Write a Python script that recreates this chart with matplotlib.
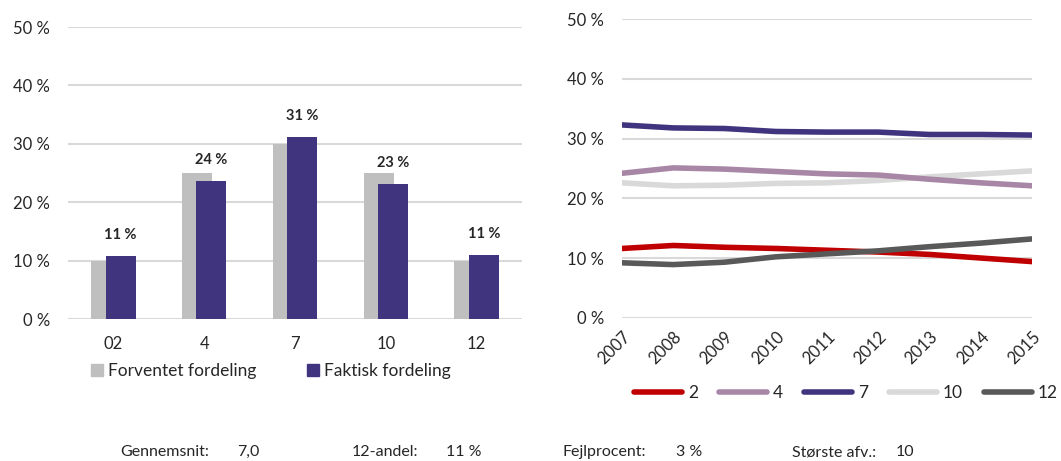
import matplotlib
matplotlib.use("Agg")
import matplotlib.pyplot as plt
import numpy as np
from matplotlib.patches import Patch
from matplotlib.lines import Line2D

plt.rcParams['font.family'] = ['Lato', 'DejaVu Sans']

# Left chart data
grades = ["02", "4", "7", "10", "12"]
expected = [10, 25, 30, 25, 10]
actual = [10.8, 23.7, 31.2, 23.1, 11.0]
actual_labels = ["11 %", "24 %", "31 %", "23 %", "11 %"]

# Right chart data
years = [2007, 2008, 2009, 2010, 2011, 2012, 2013, 2014, 2015]
s2 = [11.6, 12.1, 11.8, 11.6, 11.3, 11.0, 10.6, 10.0, 9.4]
s4 = [24.2, 25.1, 24.9, 24.5, 24.1, 23.9, 23.2, 22.6, 22.1]
s7 = [32.3, 31.8, 31.7, 31.2, 31.1, 31.1, 30.7, 30.7, 30.6]
s10 = [22.6, 22.1, 22.2, 22.5, 22.6, 23.0, 23.6, 24.1, 24.6]
s12 = [9.2, 8.9, 9.3, 10.2, 10.7, 11.2, 11.9, 12.5, 13.2]
series_names = ["2", "4", "7", "10", "12"]
series_colors = ["#C00000", "#A886A6", "#41347F", "#D9D9D9", "#595959"]

# Bottom stats
stat_labels = ["Gennemsnit:", "12-andel:", "Fejlprocent:", "Største afv.:"]
stat_values = ["7,0", "11 %", "3 %", "10"]

W, H = 1061, 461
fig = plt.figure(figsize=(W / 100, H / 100), dpi=100)

text_color = "#262626"
grid_color = "#D9D9D9"
tick_fs = 12

# ---------- Left chart ----------
axL = fig.add_axes([68 / W, 1 - 319 / H, (522 - 68) / W, (319 - 27) / H])
x = np.arange(len(grades))
bw = 0.33
off = 0.08
axL.bar(x - off, expected, width=bw, color="#BFBFBF", zorder=2, label="Forventet fordeling")
axL.bar(x + off, actual, width=bw, color="#41347F", zorder=3, label="Faktisk fordeling")
for xi, v, lab in zip(x, actual, actual_labels):
    axL.annotate(lab, (xi + off, v), xytext=(0, 15), textcoords="offset points",
                 ha="center", va="center", fontsize=10.5, fontweight="bold", color=text_color)
axL.set_ylim(0, 50)
axL.set_xlim(-0.5, len(grades) - 0.5)
axL.set_yticks(np.arange(0, 51, 10))
axL.set_yticklabels([f"{v} %" for v in range(0, 51, 10)])
axL.set_xticks(x)
axL.set_xticklabels(grades)
axL.grid(axis="y", color=grid_color, linewidth=1.5, zorder=0)
axL.set_axisbelow(True)
for s in axL.spines.values():
    s.set_visible(False)
axL.tick_params(axis="both", length=0, labelsize=tick_fs, colors=text_color)
axL.tick_params(axis="y", pad=13)
axL.tick_params(axis="x", pad=12)

hL = [Patch(color="#BFBFBF"), Patch(color="#41347F")]
fig.legend(hL, ["Forventet fordeling", "Faktisk fordeling"], loc="center left",
           bbox_to_anchor=(91 / W, 1 - 371 / H), ncol=2, frameon=False,
           fontsize=12.5, handlelength=0.7, handleheight=0.7, handletextpad=0.3,
           columnspacing=2.9, borderpad=0, borderaxespad=0, labelcolor=text_color)

# ---------- Right chart ----------
axR = fig.add_axes([622 / W, 1 - 317.7 / H, (1032 - 622) / W, (317.7 - 19.3) / H])
all_series = [s2, s4, s7, s10, s12]
for i in [3, 1, 2, 0, 4]:
    axR.plot(years, all_series[i], color=series_colors[i], linewidth=4,
             solid_capstyle="round", zorder=3)
axR.set_xlim(years[0], years[-1])
axR.set_ylim(0, 50)
axR.set_yticks(np.arange(0, 51, 10))
axR.set_yticklabels([f"{v} %" for v in range(0, 51, 10)])
axR.set_xticks(years)
axR.set_xticklabels([str(y) for y in years], rotation=45, ha="right", rotation_mode="anchor")
axR.grid(axis="y", color=grid_color, linewidth=1.5, zorder=0)
axR.set_axisbelow(True)
for s in axR.spines.values():
    s.set_visible(False)
axR.tick_params(axis="both", length=0, labelsize=tick_fs, colors=text_color)
axR.tick_params(axis="y", pad=13)
axR.tick_params(axis="x", pad=8)

hR = [Line2D([], [], color=c, linewidth=4, solid_capstyle="round") for c in series_colors]
fig.legend(hR, series_names, loc="center left", bbox_to_anchor=(634 / W, 1 - 393 / H),
           ncol=5, frameon=False, fontsize=12.5, handlelength=2.75, handletextpad=0.35,
           columnspacing=1.22, borderpad=0, borderaxespad=0, labelcolor=text_color)

# ---------- Bottom stats ----------
stat_x = [120, 352, 563, 792]
val_x = [237, 446, 676, 896]
for lx, vx, l, v in zip(stat_x, val_x, stat_labels, stat_values):
    fig.text(lx / W, 1 - 452 / H, l, fontsize=11.5, color=text_color, va="center", ha="left")
    fig.text(vx / W, 1 - 452 / H, v, fontsize=11.5, color=text_color, va="center", ha="left")

fig.savefig("out.png", dpi=100)
